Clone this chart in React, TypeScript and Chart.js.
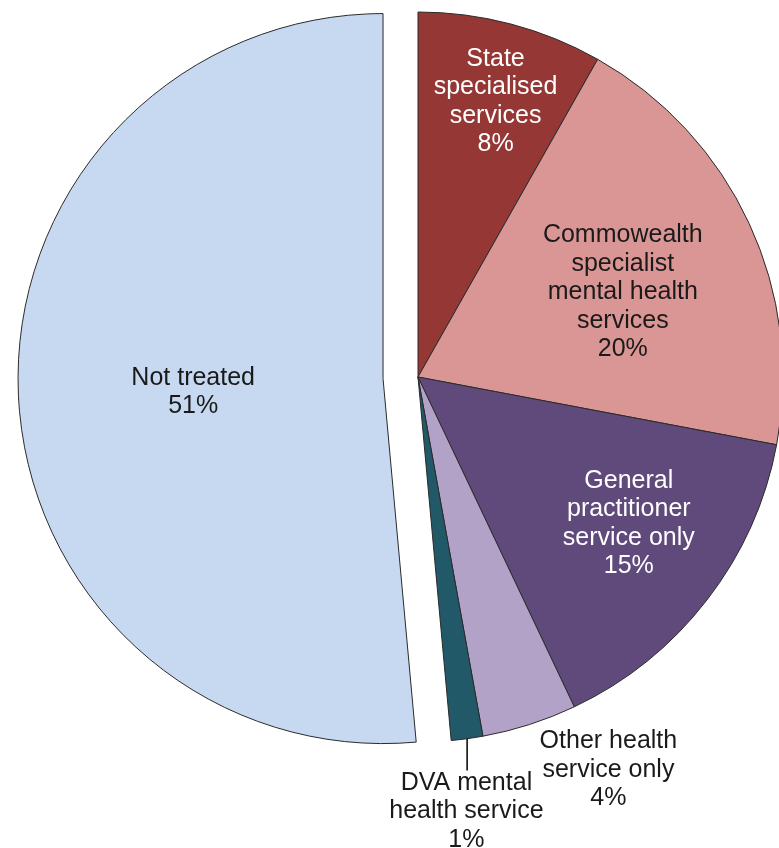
import React, { useEffect, useRef } from "react";
import { Chart, registerables } from "chart.js";

Chart.register(...registerables);

const categories = [
  "State specialised services",
  "Commowealth specialist mental health services",
  "General practitioner service only",
  "Other health service only",
  "DVA mental health service",
  "Not treated",
];
const values = [8.2, 19.8, 15.0, 4.2, 1.4, 51.5];
const percentLabels = ["8%", "20%", "15%", "4%", "1%", "51%"];
const labelLines = [
  ["State", "specialised", "services"],
  ["Commowealth", "specialist", "mental health", "services"],
  ["General", "practitioner", "service only"],
  ["Other health", "service only"],
  ["DVA mental", "health service"],
  ["Not treated"],
];
const sliceColors = ["#953735", "#D99694", "#604A7B", "#B3A2C7", "#215968", "#C6D9F1"];
const textColors = ["#ffffff", "#1a1a1a", "#ffffff", "#1a1a1a", "#1a1a1a", "#1a1a1a"];
// explode distance in px for each slice
const sliceExplode = [0, 0, 0, 0, 0, 35];
// label placement: [angle in degrees clockwise from top, fraction of radius]
const labelPlacement: [number, number][] = [
  [15.6, 0.79],
  [66.9, 0.61],
  [124.4, 0.7],
  [154, 1.19],
  [173.6, 1.19],
  [266.7, 0.521],
];
const leaderLineSlices = [4];

const FONT_SIZE = 25;
const LINE_H = 28.5;
const TEXT_DY = 2.5;

function sliceShift(arc: any, i: number) {
  const p = arc.getProps(["x", "y", "startAngle", "endAngle"], true);
  const half = (p.startAngle + p.endAngle) / 2;
  const d = sliceExplode[i] || 0;
  return { dx: Math.cos(half) * d, dy: Math.sin(half) * d, half };
}

const explodePlugin = {
  id: "explodeSlices",
  beforeDatasetDraw(chart: any, args: any) {
    const ctx = chart.ctx;
    const meta = chart.getDatasetMeta(args.index);
    meta.data.forEach((arc: any, i: number) => {
      const { dx, dy } = sliceShift(arc, i);
      ctx.save();
      ctx.translate(dx, dy);
      arc.draw(ctx, chart.chartArea);
      ctx.restore();
    });
    return false;
  },
};

const labelPlugin = {
  id: "sliceLabels",
  afterDatasetsDraw(chart: any) {
    const ctx = chart.ctx;
    const meta = chart.getDatasetMeta(0);
    ctx.save();
    ctx.font = `${FONT_SIZE}px "Liberation Sans", Arial, sans-serif`;
    ctx.textAlign = "center";
    ctx.textBaseline = "middle";
    meta.data.forEach((arc: any, i: number) => {
      const p = arc.getProps(["x", "y", "outerRadius"], true);
      const { dx, dy, half } = sliceShift(arc, i);
      const cx = p.x + dx;
      const cy = p.y + dy;
      const [deg, frac] = labelPlacement[i];
      const a = ((deg - 90) * Math.PI) / 180;
      const lx = cx + Math.cos(a) * p.outerRadius * frac;
      const ly = cy + Math.sin(a) * p.outerRadius * frac + TEXT_DY;
      const lines = [...labelLines[i], percentLabels[i]];
      const top = ly - ((lines.length - 1) * LINE_H) / 2;
      ctx.fillStyle = textColors[i];
      lines.forEach((t, k) => ctx.fillText(t, lx, top + k * LINE_H));
      if (leaderLineSlices.includes(i)) {
        const ex = cx + Math.cos(half) * p.outerRadius;
        const ey = cy + Math.sin(half) * p.outerRadius;
        ctx.strokeStyle = "#000";
        ctx.lineWidth = 1.5;
        ctx.beginPath();
        ctx.moveTo(ex, ey);
        ctx.lineTo(ex, top - LINE_H / 2 + 2);
        ctx.stroke();
      }
    });
    ctx.restore();
  },
};

export default function App() {
  const ref = useRef<HTMLCanvasElement>(null);
  useEffect(() => {
    if (!ref.current) return;
    const chart = new Chart(ref.current, {
      type: "pie",
      data: {
        labels: categories,
        datasets: [
          {
            data: values,
            backgroundColor: sliceColors,
            borderColor: "#2a2a2a",
            borderWidth: 1,
            clip: false as any,
          },
        ],
      },
      options: {
        animation: false,
        responsive: false,
        devicePixelRatio: 1,
        radius: 365,
        layout: { padding: { left: 57, right: 0, top: 0, bottom: 94 } },
        plugins: { legend: { display: false }, tooltip: { enabled: false } },
      } as any,
      plugins: [explodePlugin, labelPlugin],
    });
    return () => chart.destroy();
  }, []);
  return (
    <div style={{ position: "fixed", left: 0, top: 0, width: 779, height: 848, background: "#fff" }}>
      <canvas ref={ref} width={779} height={848} />
    </div>
  );
}
